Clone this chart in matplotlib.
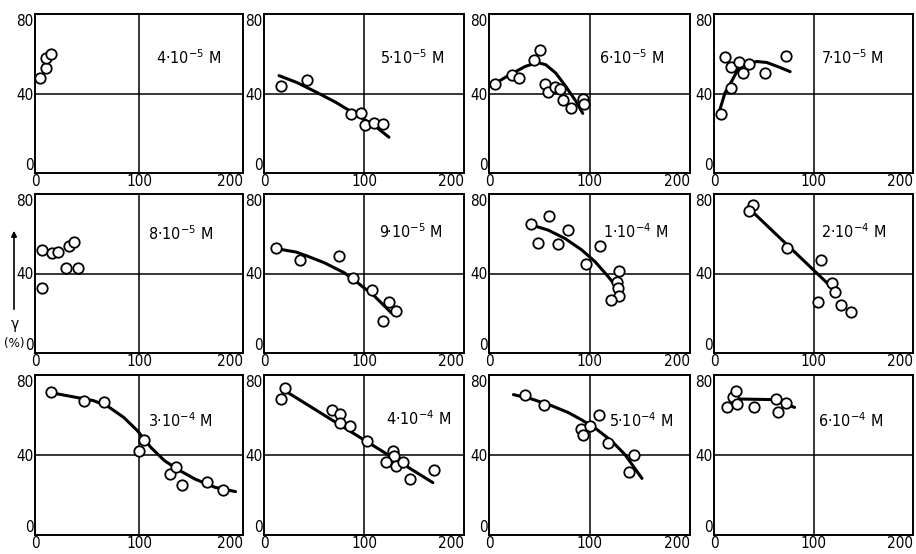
import matplotlib
matplotlib.use("Agg")
import matplotlib.pyplot as plt

plt.rcParams['font.family'] = ['DejaVu Sans']
plt.rcParams['font.stretch'] = 'condensed'
plt.rcParams['mathtext.fontset'] = 'dejavusans'

# ---- data ----
labels = ["4·10$^{-5}$ M", "5·10$^{-5}$ M", "6·10$^{-5}$ M", "7·10$^{-5}$ M",
          "8·10$^{-5}$ M", "9·10$^{-5}$ M", "1·10$^{-4}$ M", "2·10$^{-4}$ M",
          "3·10$^{-4}$ M", "4·10$^{-4}$ M", "5·10$^{-4}$ M", "6·10$^{-4}$ M"]

x_ticks = [0, 100, 200]
y_ticks = [0, 40, 80]

pts_x_1 = [5, 11, 11, 15]
pts_y_1 = [48, 53, 58, 60]

pts_x_2 = [17, 43, 87, 97, 101, 110, 119]
pts_y_2 = [44, 47, 29.5, 30, 24.3, 25.3, 24.8]
fit_x_2 = [15, 33, 53, 72, 90, 110, 125]
fit_y_2 = [49, 45.5, 40.5, 35.5, 30, 24, 18]

pts_x_3 = [6, 23, 29.5, 44.6, 50.3, 55.4, 59, 65.4, 70.8, 73.2, 81.5, 94, 95]
pts_y_3 = [44.7, 49.4, 47.7, 57, 62, 44.7, 40.7, 43.5, 42.2, 36.8, 32.6, 37.1, 34.6]
fit_x_3 = [6.7, 19.5, 36, 48, 56.4, 66.4, 76.5, 86.6, 93.3]
fit_y_3 = [45.2, 49.1, 53.6, 55.6, 54.5, 50.3, 43.5, 36, 30]

pts_x_4 = [11, 16.8, 25, 29.5, 35.6, 51, 72.5, 16.8, 7]
pts_y_4 = [58.2, 53.4, 56, 50.2, 54.6, 50.2, 58.7, 42.8, 29.7]
fit_x_4 = [6, 11, 17.8, 24.5, 32.9, 43, 53, 66.4, 76.5]
fit_y_4 = [32, 40.3, 46.2, 52.6, 54.8, 56.1, 55.6, 53.1, 51]

pts_x_5 = [6.4, 16.7, 21.8, 32.7, 37.8, 30, 41.7, 7]
pts_y_5 = [51.6, 50.4, 50.9, 53.7, 55.9, 43, 43, 32.5]

pts_x_6 = [12.4, 36.2, 74.5, 89, 108, 124.8, 131.5, 119]
pts_y_6 = [53, 47, 49, 37.8, 31.9, 25.5, 20.9, 15.9]
fit_x_6 = [13.4, 32, 43.6, 60.4, 80.5, 94, 110.7, 127.5]
fit_y_6 = [52.4, 50.8, 48.7, 45.4, 40.3, 35.2, 28.5, 20.1]

pts_x_7 = [41.9, 59.8, 79, 48.5, 68.4, 96.3, 110.6, 128.9, 127.2, 128.2, 129.6, 121.3]
pts_y_7 = [64.9, 68.9, 61.8, 55.5, 54.6, 45, 53.8, 41.2, 35.5, 32.9, 28.6, 26.9]
fit_x_7 = [42.5, 59, 75.7, 92.4, 105.6, 117.3, 125.6]
fit_y_7 = [64.4, 61.8, 57.6, 51.8, 45.9, 39.2, 34.1]

pts_x_8 = [39, 35.2, 73.4, 108, 118.3, 121.6, 127.2, 137.2, 104.7]
pts_y_8 = [74.3, 71.4, 52.7, 46.6, 35.2, 30.6, 24.1, 20.4, 25.9]
fit_x_8 = [40.9, 117.3]
fit_y_8 = [70, 33.5]

pts_x_9 = [15.3, 46.9, 66.8, 104.9, 100, 130, 135.8, 141.4, 165, 180.8]
pts_y_9 = [71.7, 67.2, 66.7, 47.7, 42, 30.3, 33.8, 25.2, 26.3, 22.5]
fit_x_9 = [16.9, 39.7, 56, 69, 85.3, 98.4, 111.4, 124.4, 137.5, 153.7, 173.3, 192.8]
fit_y_9 = [71, 68.8, 67.2, 64.7, 58.8, 52.2, 43.8, 37.2, 32.7, 28, 23.8, 21.7]

pts_x_10 = [20.9, 16.9, 68.1, 75.7, 75.7, 85.7, 103.3, 128.9, 129.6, 121.6, 132.2, 138.9, 145.5, 170.4]
pts_y_10 = [73.3, 67.9, 62.7, 60.3, 56.1, 54.5, 46.9, 42.2, 39.3, 36.3, 34.6, 36.6, 28.2, 32.4]
fit_x_10 = [22.6, 168.8]
fit_y_10 = [71.6, 26.2]

pts_x_11 = [35.9, 55.1, 109.6, 91.7, 100, 94, 118.3, 143.9, 139.5]
pts_y_11 = [70, 65.1, 59.9, 53.1, 54.5, 49.9, 46, 40.1, 31.7]
fit_x_11 = [24.3, 42.5, 62.5, 79, 92.4, 107.3, 122.3, 135.5, 152.2]
fit_y_11 = [70.2, 68, 64.6, 61.2, 57.5, 52.8, 46.9, 40.1, 28.3]

pts_x_12 = [13.3, 19.3, 22, 23.3, 40, 62, 64.3, 72]
pts_y_12 = [63.8, 68.9, 71.8, 65.5, 64.1, 68, 61.6, 66]
fit_x_12 = [24.3, 59.3, 81]
fit_y_12 = [68, 67.7, 63.8]

points = [(pts_x_1, pts_y_1), (pts_x_2, pts_y_2), (pts_x_3, pts_y_3), (pts_x_4, pts_y_4),
          (pts_x_5, pts_y_5), (pts_x_6, pts_y_6), (pts_x_7, pts_y_7), (pts_x_8, pts_y_8),
          (pts_x_9, pts_y_9), (pts_x_10, pts_y_10), (pts_x_11, pts_y_11), (pts_x_12, pts_y_12)]
fits = [None, (fit_x_2, fit_y_2), (fit_x_3, fit_y_3), (fit_x_4, fit_y_4),
        None, (fit_x_6, fit_y_6), (fit_x_7, fit_y_7), (fit_x_8, fit_y_8),
        (fit_x_9, fit_y_9), (fit_x_10, fit_y_10), (fit_x_11, fit_y_11), (fit_x_12, fit_y_12)]
label_pos = [(148, 58), (148, 58), (142, 58), (139, 58),
             (140, 60), (147, 61), (146, 61), (140, 61),
             (140, 57), (155, 58), (151, 57), (137, 57)]

# ---- layout (pixels) ----
W, H = 916, 554
col_l = [35, 264, 489, 714]
col_r = [243, 464, 690, 913]
row_t = [14, 194, 375]
row_b = [173, 353, 535]

fig = plt.figure(figsize=(W / 100, H / 100), dpi=100)
fig.patch.set_facecolor('white')

for i in range(12):
    r, c = divmod(i, 4)
    ax = fig.add_axes([col_l[c] / W, 1 - row_b[r] / H,
                       (col_r[c] - col_l[c]) / W, (row_b[r] - row_t[r]) / H])
    ax.set_xlim(0, 200)
    ax.set_ylim(0, 80)
    ax.set_xticks(x_ticks)
    ax.set_yticks(y_ticks)
    ax.tick_params(length=0, labelsize=11, pad=1, colors='black')
    xl = ax.get_xticklabels()
    xl[-1].set_horizontalalignment('right')
    yl = ax.get_yticklabels()
    yl[0].set_verticalalignment('bottom')
    yl[-1].set_verticalalignment('top')
    for s in ax.spines.values():
        s.set_linewidth(1.4)
        s.set_color('black')
    ax.axvline(x_ticks[1], color='black', lw=1.1, zorder=1)
    ax.axhline(y_ticks[1], color='black', lw=1.1, zorder=1)
    if fits[i] is not None:
        ax.plot(fits[i][0], fits[i][1], color='black', lw=2.2, zorder=2,
                solid_capstyle='round', solid_joinstyle='round')
    ax.plot(points[i][0], points[i][1], linestyle='none', marker='o', ms=7.5,
            mfc='white', mec='black', mew=1.3, zorder=3)
    ax.text(label_pos[i][0], label_pos[i][1], labels[i], ha='center', va='center',
            fontsize=11.5, color='black')

# y-axis quantity label with upward arrow
fig.add_artist(matplotlib.patches.FancyArrowPatch(
    (14 / W, 1 - 312 / H), (14 / W, 1 - 228 / H), transform=fig.transFigure,
    arrowstyle='-|>', mutation_scale=8, color='black', lw=1.2))
fig.text(15 / W, 1 - 324 / H, "γ", ha='center', va='center', fontsize=11)
fig.text(14 / W, 1 - 343 / H, "(%)", ha='center', va='center', fontsize=9.5)

fig.savefig("out.png", dpi=100, facecolor='white')
